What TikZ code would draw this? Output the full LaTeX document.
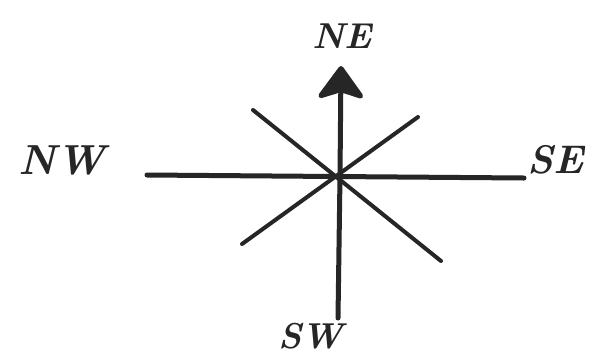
\documentclass[tikz,border=0pt]{standalone}
\usetikzlibrary{positioning,arrows.meta}

\begin{document}
\begin{tikzpicture}[
  x=1pt, y=-1pt,
  lbl/.style={inner sep=0pt, text=black!85, font=\fontsize{#1}{#1}\selectfont\bfseries\itshape},
  lbl/.default=36,
  axis/.style={draw=black!85, line width=5pt, line cap=round},
  diag/.style={draw=black!85, line width=4pt, line cap=round},
  north/.style={axis, -{Stealth[length=36pt,width=52pt,inset=8pt,round]}}
]
\useasboundingbox[fill=white] (0,0) rectangle (612,357);
\coordinate (c)  at (340,176);
\coordinate (w)  at (147,175);
\coordinate (e)  at (524,178);
\coordinate (s)  at (338,318);
\coordinate (n)  at (341,66);
\coordinate (d1) at (253,110);
\coordinate (d2) at (441,261);
\coordinate (d3) at (418,117);
\coordinate (d4) at (242,244);

\node[lbl=36] (ne) at (342,36)  {NE};
\node[lbl=42] (nw) at (62,160)  {NW};
\node[lbl=40] (se) at (556,160) {SE};
\node[lbl=36] (sw) at (311,336) {SW};

\draw[axis] (w) -- (e);
\draw[axis] (s) -- (c);
\draw[north] (c) -- (n);
\draw[diag] (d1) -- (d2);
\draw[diag] (d3) -- (d4);
\end{tikzpicture}
\end{document}
